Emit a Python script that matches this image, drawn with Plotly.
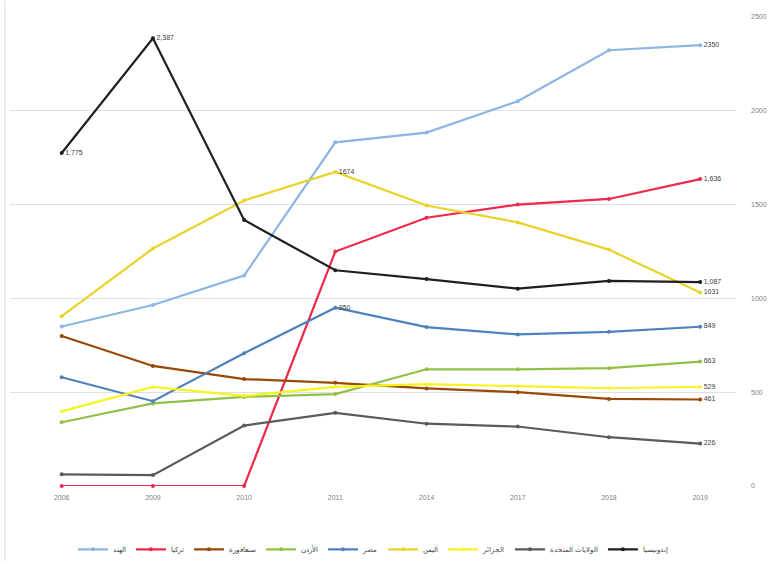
import plotly.graph_objects as go

years = ["2006", "2009", "2010", "2011", "2014", "2017", "2018", "2019"]

names = ["الهند", "تركيا", "سنغافورة", "الأردن", "مصر", "اليمن", "الجزائر", "الولايات المتحدة", "إندونيسيا"]

india = [850, 965, 1122, 1832, 1884, 2051, 2323, 2350]
turkey = [0, 0, 0, 1250, 1430, 1500, 1530, 1636]
singapore = [800, 640, 570, 550, 520, 500, 464, 461]
jordan = [340, 440, 475, 490, 622, 622, 628, 663]
egypt = [580, 452, 708, 950, 847, 808, 822, 849]
yemen = [905, 1266, 1522, 1674, 1495, 1405, 1260, 1031]
algeria = [398, 528, 480, 528, 543, 533, 521, 529]
usa = [62, 58, 322, 390, 332, 317, 260, 226]
indonesia = [1775, 2387, 1418, 1150, 1103, 1052, 1093, 1087]

labels_india = ["", "", "", "", "", "", "", "2350"]
labels_turkey = ["", "", "", "", "", "", "", "1,636"]
labels_singapore = ["", "", "", "", "", "", "", "461"]
labels_jordan = ["", "", "", "", "", "", "", "663"]
labels_egypt = ["", "", "", "950", "", "", "", "849"]
labels_yemen = ["", "", "", "1674", "", "", "", "1031"]
labels_algeria = ["", "", "", "", "", "", "", "529"]
labels_usa = ["", "", "", "", "", "", "", "226"]
labels_indonesia = ["1,775", "2,387", "", "", "", "", "", "1,087"]

y_ticks = [0, 500, 1000, 1500, 2000, 2500]

series = [
    (names[0], india, labels_india, "#8DB4E2", "circle"),
    (names[1], turkey, labels_turkey, "#F0284A", "circle"),
    (names[2], singapore, labels_singapore, "#984807", "circle"),
    (names[3], jordan, labels_jordan, "#92C047", "circle"),
    (names[4], egypt, labels_egypt, "#4F81BD", "circle"),
    (names[5], yemen, labels_yemen, "#E8D32A", "circle"),
    (names[6], algeria, labels_algeria, "#F5F51E", "star"),
    (names[7], usa, labels_usa, "#5A5A5A", "circle"),
    (names[8], indonesia, labels_indonesia, "#1F1F1F", "circle"),
]

x_idx = list(range(len(years)))

fig = go.Figure()
for name, vals, labs, color, sym in series:
    fig.add_trace(go.Scatter(
        x=x_idx, y=vals, name=name,
        mode="lines+markers+text",
        line=dict(color=color, width=2.2),
        marker=dict(color=color, size=4, symbol=sym),
        text=labs, textposition="middle right",
        textfont=dict(size=7, color="#404040", family="Liberation Sans"),
        cliponaxis=False,
    ))

fig.update_layout(
    width=777, height=574,
    margin=dict(l=10, r=37, t=17, b=78),
    paper_bgcolor="white", plot_bgcolor="white",
    font=dict(family="Liberation Sans", size=7, color="#595959"),
    showlegend=True,
    legend=dict(orientation="h", x=0.5, xanchor="center", y=-0.135, yanchor="middle",
                font=dict(size=7, color="#404040"), itemwidth=30),
    xaxis=dict(tickmode="array", tickvals=x_idx, ticktext=years,
               range=[-0.567, 7.393], showgrid=False, zeroline=False,
               showline=False, ticks="", tickfont=dict(size=7, color="#7f7f7f"),
               ticklabelstandoff=6),
    yaxis=dict(side="right", range=[0, 2500], tickvals=y_ticks,
               showgrid=True, gridcolor="#E0E0E0", gridwidth=1,
               zeroline=False, showline=False, ticks="",
               tickfont=dict(size=7, color="#7f7f7f"), ticklabelstandoff=14),
)
fig.add_shape(type="line", xref="paper", yref="paper", x0=-0.007, x1=-0.007, y0=-0.16, y1=1.035,
              line=dict(color="#D9D9D9", width=1))

fig.write_html("out.html")
